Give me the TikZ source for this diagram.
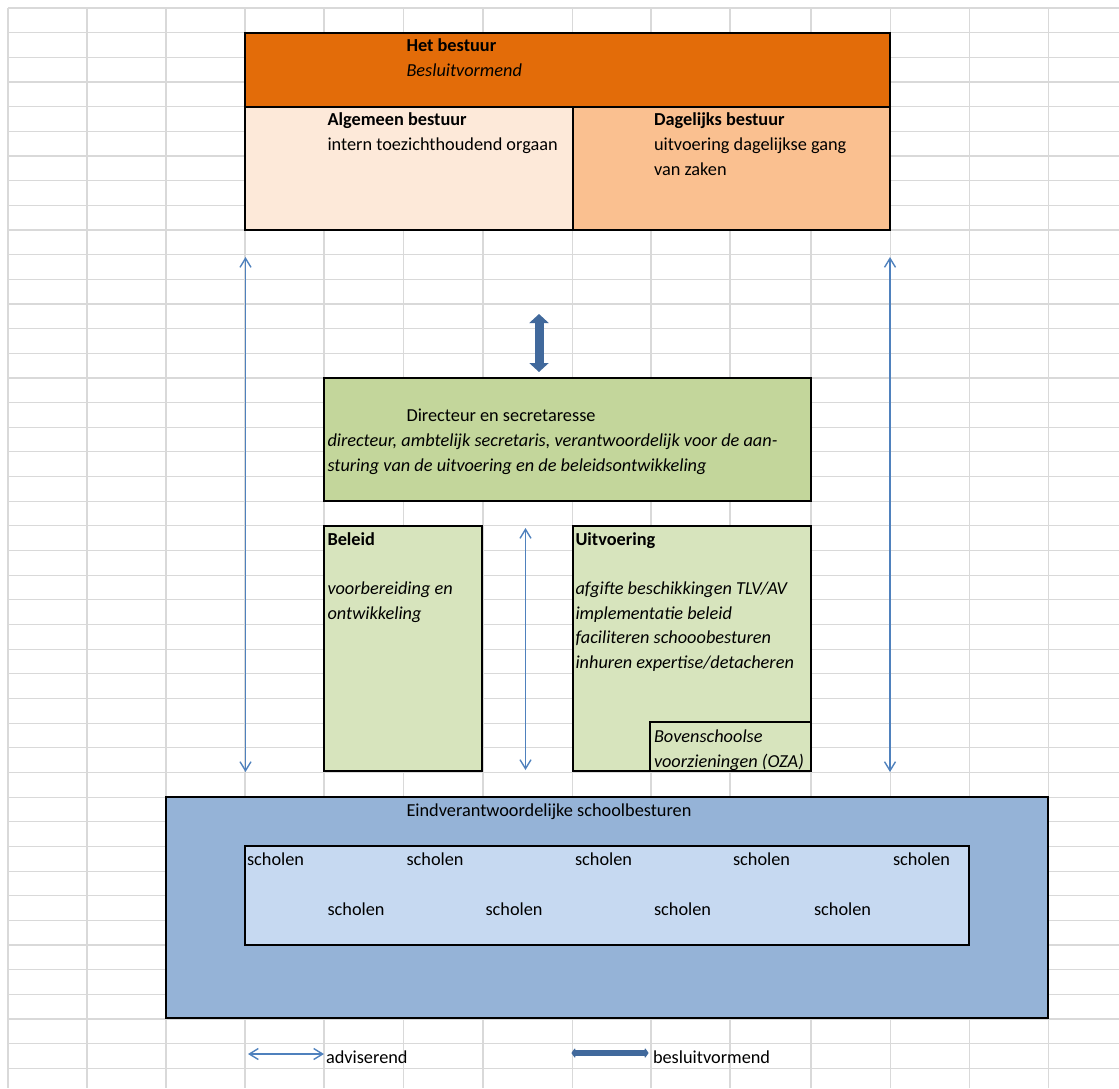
\documentclass[tikz,border=0pt]{standalone}
\usepackage{fontspec}
\setmainfont{Carlito}
\usetikzlibrary{arrows.meta}
\definecolor{gridc}{HTML}{D9D9D9}
\definecolor{orangeh}{HTML}{E36C09}
\definecolor{orangel}{HTML}{FDE9D9}
\definecolor{oranger}{HTML}{FAC090}
\definecolor{greend}{HTML}{C3D69B}
\definecolor{greenl}{HTML}{D7E4BD}
\definecolor{blued}{HTML}{95B3D7}
\definecolor{bluel}{HTML}{C6D9F1}
\definecolor{arrowthin}{HTML}{4F81BD}
\definecolor{arrowthick}{HTML}{41699C}
\tikzset{
  gridline/.style={draw=gridc, line width=1.2pt},
  box/.style={draw=black, line width=2pt, inner sep=0pt, outer sep=0pt, anchor=north west},
  txt/.style={anchor=base west, inner sep=0pt, outer sep=0pt, font=\fontsize{18.3}{24}\selectfont},
  btxt/.style={txt, font=\fontsize{18.3}{24}\selectfont\bfseries},
  itxt/.style={txt, font=\fontsize{18.3}{24}\selectfont\itshape},
  advies/.style={draw=arrowthin, line width=1.4pt, {Straight Barb[length=9pt,width=11pt]}-{Straight Barb[length=9pt,width=11pt]}},
  besluit/.style={draw=arrowthick, line width=9pt, {Triangle[width=19pt,length=9pt]}-{Triangle[width=19pt,length=9pt]}},
  besluitlegend/.style={draw=arrowthick, line width=5.5pt, {Triangle[width=11pt,length=4pt,round]}-{Triangle[width=11pt,length=4pt,round]}},
}
\begin{document}
\begin{tikzpicture}[x=1pt, y=-1pt]
\useasboundingbox (0,0) rectangle (1119,1088);
% spreadsheet grid
\foreach \gx in {8,87,166,245,324,403.5,483,572.5,651,730,811,890.5,969.5,1048.5}
  \draw[gridline] (\gx,8) -- (\gx,1088);
\foreach \n in {0,...,43}{
  \pgfmathsetmacro\gy{8+24.66*\n}
  \draw[gridline] (8,\gy) -- (1119,\gy);
}
% Het bestuur
\node[box, fill=orangeh, minimum width=645pt, minimum height=74pt] (hdr) at (245,33) {};
\node[box, fill=orangel, minimum width=328pt, minimum height=123pt] (ab) at (245,107) {};
\node[box, fill=oranger, minimum width=317pt, minimum height=123pt] (db) at (573,107) {};
\node[btxt] (t1) at (406.5,51.8) {Het bestuur};
\node[itxt] (t2) at (406.5,76.5) {Besluitvormend};
\node[btxt] (t3) at (327.5,125.8) {Algemeen bestuur};
\node[txt] (t4) at (327.5,150.5) {intern toezichthoudend orgaan};
\node[btxt] (t5) at (654,125.8) {Dagelijks bestuur};
\node[txt] (t6) at (654,150.5) {uitvoering dagelijkse gang};
\node[txt] (t7) at (654,175.1) {van zaken};
% Directeur
\node[box, fill=greend, minimum width=487pt, minimum height=123pt] (dir) at (324,378) {};
\node[txt] (d1) at (406.5,421.7) {Directeur en secretaresse};
\node[itxt] (d2) at (327.5,446.5) {directeur, ambtelijk secretaris, verantwoordelijk voor de aan-};
\node[itxt] (d3) at (327.5,471) {sturing van de uitvoering en de beleidsontwikkeling};
% Beleid
\node[box, fill=greenl, minimum width=158pt, minimum height=245pt] (bel) at (324,526) {};
\node[btxt] (b1) at (327.5,545) {Beleid};
\node[itxt] (b2) at (327.5,594.4) {voorbereiding en};
\node[itxt] (b3) at (327.5,619) {ontwikkeling};
% Uitvoering
\node[box, fill=greenl, minimum width=238.5pt, minimum height=245pt] (uit) at (572.5,526) {};
\node[btxt] (u1) at (575.5,545) {Uitvoering};
\node[itxt] (u2) at (575.5,594.4) {afgifte beschikkingen TLV/AV};
\node[itxt] (u3) at (575.5,619) {implementatie beleid};
\node[itxt] (u4) at (575.5,643.7) {faciliteren schooobesturen};
\node[itxt] (u5) at (575.5,668.4) {inhuren expertise/detacheren};
\node[box, fill=greenl, line width=1.5pt, minimum width=161pt, minimum height=49pt] (oza) at (650,722) {};
\node[itxt] (o1) at (654,742.4) {Bovenschoolse};
\node[itxt] (o2) at (654,767) {voorzieningen (OZA)};
% Schoolbesturen
\node[box, fill=blued, minimum width=882pt, minimum height=221pt] (sb) at (166,797) {};
\node[box, fill=bluel, minimum width=724pt, minimum height=99pt] (sc) at (245,846) {};
\node[txt] (s0) at (406.5,816.4) {Eindverantwoordelijke schoolbesturen};
\node[txt] (s1) at (247,865.7) {scholen};
\node[txt] (s2) at (406.5,865.7) {scholen};
\node[txt] (s3) at (575,865.7) {scholen};
\node[txt] (s4) at (733,865.7) {scholen};
\node[txt] (s5) at (893,865.7) {scholen};
\node[txt] (s6) at (327.5,915) {scholen};
\node[txt] (s7) at (485.5,915) {scholen};
\node[txt] (s8) at (654,915) {scholen};
\node[txt] (s9) at (814,915) {scholen};
% arrows
\coordinate (lt) at (245.5,257);
\coordinate (lb) at (245.5,772);
\coordinate (rt) at (890,257);
\coordinate (rb) at (890,772);
\coordinate (mt) at (525.5,528);
\coordinate (mb) at (525.5,770);
\coordinate (ct) at (539,314);
\coordinate (cb) at (539,372);
\draw[advies] (lt) -- (lb);
\draw[advies] (rt) -- (rb);
\draw[advies] (mt) -- (mb);
\draw[besluit] (ct) -- (cb);
% legend
\coordinate (la1) at (248,1054);
\coordinate (la2) at (324,1054);
\coordinate (lb1) at (571.5,1053);
\coordinate (lb2) at (648.5,1053);
\draw[advies] (la1) -- (la2);
\draw[besluitlegend] (lb1) -- (lb2);
\node[txt] (l1) at (326,1063) {adviserend};
\node[txt] (l2) at (653,1063) {besluitvormend};
\end{tikzpicture}
\end{document}
